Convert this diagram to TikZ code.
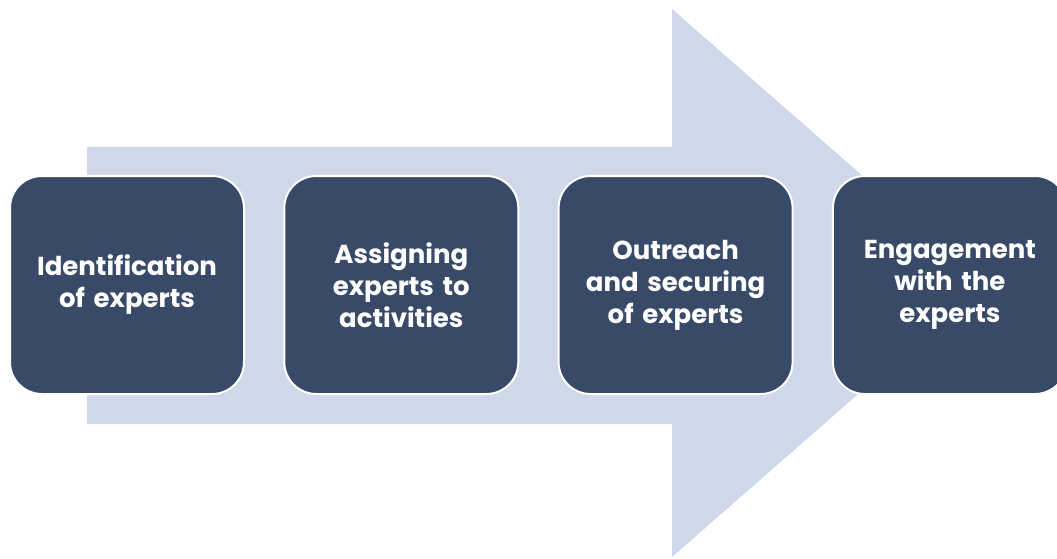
\documentclass[tikz,border=0pt]{standalone}
\usepackage{fontspec}
\setsansfont{Poppins}
\usetikzlibrary{positioning}

\definecolor{arrowfill}{RGB}{206,216,232}
\definecolor{stepfill}{RGB}{56,74,103}

\tikzset{
	stepbox/.style={rectangle, rounded corners=32pt, fill=stepfill, draw=white, line width=2pt,
		minimum width=234pt, minimum height=218pt, text width=224pt, align=center,
		text=white, font=\sffamily\bfseries\fontsize{26}{32}\selectfont}
}

\begin{document}
\begin{tikzpicture}[x=1pt,y=-1pt]
	\useasboundingbox (0,0) rectangle (1057,558);
	%The big arrow behind the steps
	\fill[arrowfill] (87,147) -- (672,147) -- (672,9) -- (985,283) -- (672,557) -- (672,424) -- (87,424) -- cycle;
	%The four steps
	\node[stepbox] (ident) at (127,285) {Identification\\of experts};
	\node[stepbox, right=38.3pt of ident] (assign) {Assigning\\experts to\\activities};
	\node[stepbox, right=38.3pt of assign] (outreach) {Outreach\\and securing\\of experts};
	\node[stepbox, right=38.3pt of outreach] (engage) {Engagement\\with the\\experts};
\end{tikzpicture}
\end{document}
